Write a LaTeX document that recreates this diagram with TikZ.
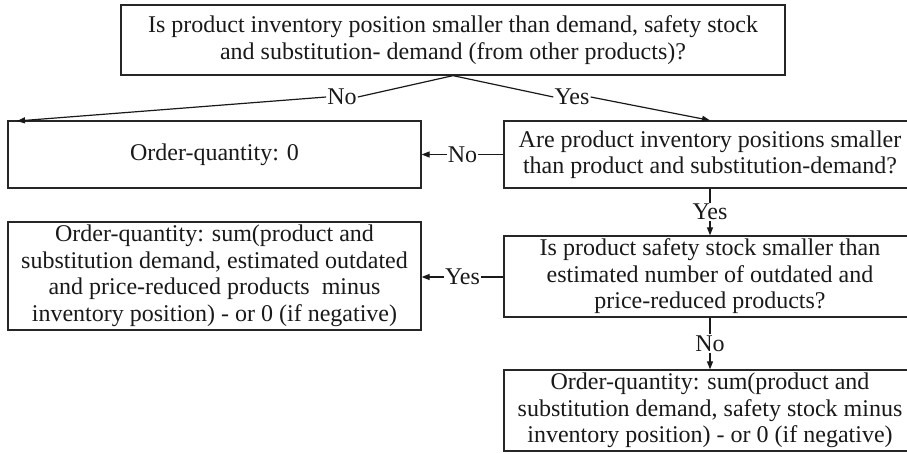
\documentclass[tikz,border=0pt]{standalone}
\usepackage{fontspec}
\setmainfont{Liberation Serif}
\usetikzlibrary{arrows.meta,calc}
\begin{document}
\begin{tikzpicture}[x=1pt,y=-1pt,
  box/.style={draw=black!85,line width=1.3pt,rectangle,inner sep=0pt,align=center,
    font=\fontsize{24}{26.5}\selectfont,text=black!90},
  lbl/.style={inner sep=1pt,font=\fontsize{24}{26.5}\selectfont,text=black!90},
  conn/.style={draw=black!90,line width=1.2pt},
  arr/.style={conn,-{Triangle[length=8pt,width=6pt]}}]
\useasboundingbox (0,0) rectangle (907,454);
\node[box,minimum width=664pt,minimum height=70pt] (top) at (453,40)
  {Is product inventory position smaller than demand, safety stock\\and substitution- demand (from other products)?};
\node[box,minimum width=413pt,minimum height=67pt] (q0) at (214.5,154.5) {Order-quantity: 0};
\node[box,minimum width=412pt,minimum height=67pt] (q1) at (710,154.5)
  {Are product inventory positions smaller\\than product and substitution-demand?};
\node[box,minimum width=412pt,minimum height=81pt] (q2) at (710,276.5)
  {Is product safety stock smaller than\\estimated number of outdated and\\price-reduced products?};
\node[box,minimum width=413pt,minimum height=108pt] (l2) at (214.5,276)
  {Order-quantity: sum(product and\\substitution demand, estimated outdated\\and price-reduced products\ \ minus\\inventory position) - or 0 (if negative)};
\node[box,minimum width=412pt,minimum height=81pt] (b) at (710,410.5)
  {Order-quantity: sum(product and\\substitution demand, safety stock minus\\inventory position) - or 0 (if negative)};
% top branches
\coordinate (tipl) at (17,121);
\node[lbl] (nol) at (342,97) {No};
\node[lbl] (yesr) at (572,97) {Yes};
\draw[conn] (top.south) -- (nol.east);
\draw[arr] (nol.west) -- (tipl);
\draw[conn] (top.south) -- (yesr.west);
\draw[arr] (yesr.east) -- (q1.north);
% q1 -> q0
\node[lbl] (no1) at ($(q0.east)!0.5!(q1.west)$) {No};
\draw[conn] (q1.west) -- (no1.east);
\draw[arr] (no1.west) -- (q0.east);
% q1 -> q2
\node[lbl] (yes1) at ($(q1.south)!0.5!(q2.north)$) {Yes};
\draw[conn] (q1.south) -- (yes1.north);
\draw[arr] (yes1.south) -- (q2.north);
% q2 -> l2
\node[lbl] (yes2) at ($(q2.west|-0,277)!0.5!(l2.east|-0,277)$) {Yes};
\draw[conn] (q2.west|-yes2) -- (yes2.east);
\draw[arr] (yes2.west) -- (l2.east|-yes2);
% q2 -> b
\node[lbl] (no2) at ($(q2.south)!0.5!(b.north)$) {No};
\draw[conn] (q2.south) -- (no2.north);
\draw[arr] (no2.south) -- (b.north);
\end{tikzpicture}
\end{document}
